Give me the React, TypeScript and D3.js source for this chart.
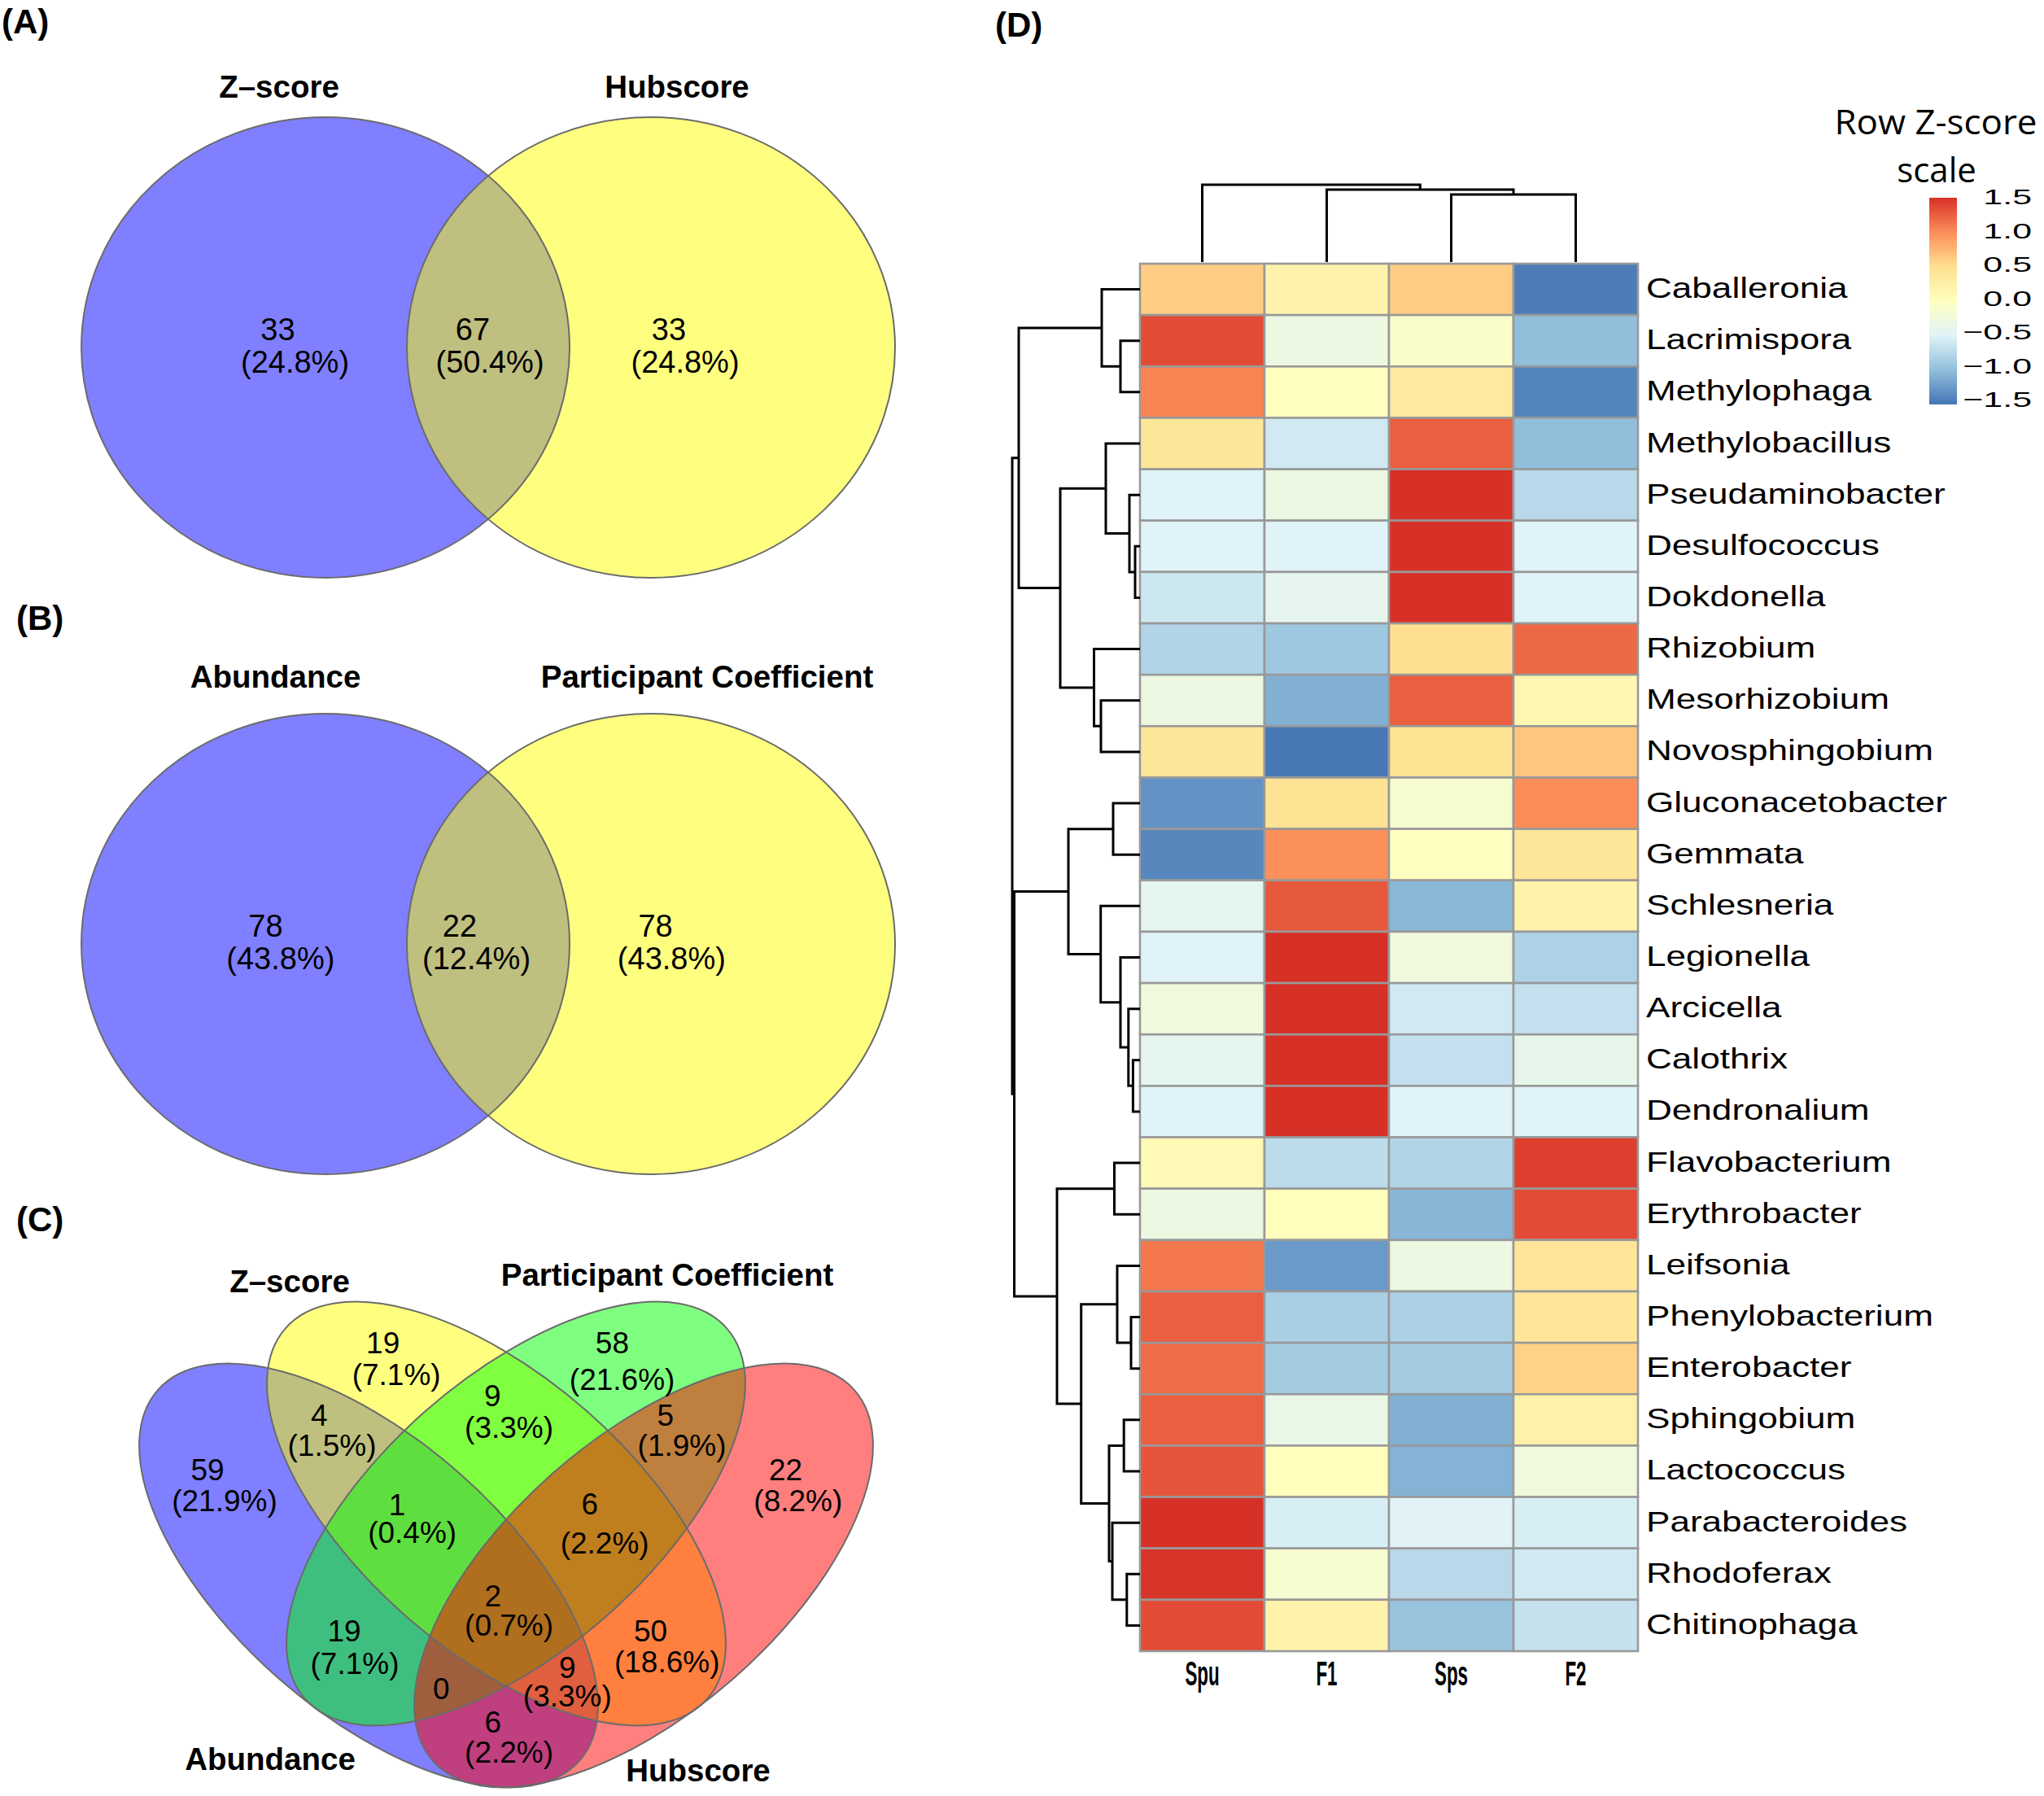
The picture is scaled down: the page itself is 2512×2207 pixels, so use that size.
import React from 'react';
import * as d3 from 'd3';

// ---------------- DATA ----------------
const vennASets = ['Z–score', 'Hubscore'];
const vennACounts = [33, 67, 33]; // left only, overlap, right only

const vennBSets = ['Abundance', 'Participant Coefficient'];
const vennBCounts = [78, 22, 78];

const vennCSets = ['Abundance', 'Z–score', 'Participant Coefficient', 'Hubscore'];
const vennCRegions = ['Z', 'PC', 'A', 'H', 'A&Z', 'Z&PC', 'PC&H', 'A&Z&PC', 'Z&PC&H', 'A&Z&PC&H', 'A&PC', 'Z&H', 'A&PC&H', 'A&Z&H', 'A&H'];
const vennCCounts = [19, 58, 59, 22, 4, 9, 5, 1, 6, 2, 19, 50, 0, 9, 6];

const genera = ['Caballeronia', 'Lacrimispora', 'Methylophaga', 'Methylobacillus', 'Pseudaminobacter', 'Desulfococcus', 'Dokdonella', 'Rhizobium', 'Mesorhizobium', 'Novosphingobium', 'Gluconacetobacter', 'Gemmata', 'Schlesneria', 'Legionella', 'Arcicella', 'Calothrix', 'Dendronalium', 'Flavobacterium', 'Erythrobacter', 'Leifsonia', 'Phenylobacterium', 'Enterobacter', 'Sphingobium', 'Lactococcus', 'Parabacteroides', 'Rhodoferax', 'Chitinophaga'];
const samples = ['Spu', 'F1', 'Sps', 'F2'];
const zSpu = [0.62, 1.35, 1.05, 0.4, -0.5, -0.5, -0.62, -0.8, -0.3, 0.4, -1.3, -1.38, -0.42, -0.5, -0.25, -0.42, -0.5, 0.1, -0.3, 1.12, 1.25, 1.18, 1.25, 1.3, 1.5, 1.48, 1.35];
const zF1 = [0.2, -0.3, 0.0, -0.6, -0.3, -0.5, -0.4, -0.92, -1.1, -1.48, 0.45, 0.98, 1.28, 1.5, 1.5, 1.5, 1.5, -0.72, 0.02, -1.25, -0.85, -0.88, -0.35, 0.02, -0.55, -0.15, 0.2];
const zSps = [0.62, -0.08, 0.35, 1.25, 1.5, 1.5, 1.5, 0.5, 1.25, 0.45, -0.15, 0.0, -1.05, -0.25, -0.6, -0.68, -0.5, -0.8, -1.06, -0.3, -0.83, -0.88, -1.1, -1.08, -0.48, -0.75, -0.95];
const zF2 = [-1.45, -1.0, -1.4, -1.0, -0.75, -0.5, -0.5, 1.2, 0.15, 0.65, 1.0, 0.4, 0.2, -0.82, -0.68, -0.38, -0.5, 1.42, 1.35, 0.42, 0.42, 0.58, 0.22, -0.26, -0.55, -0.6, -0.67];

// hclust-style merges: negative = leaf (-(index+1)), positive = merge number (1-based)
const rowMergeA = [-6, -5, -4, -9, -8, 3, -2, -1, 8, -11, -16, -15, -14, -13, 10, -18, -21, -20, -23, -26, -25, 19, 18, 16, 15, 9];
const rowMergeB = [-7, 1, 2, -10, 4, 5, -3, 7, 6, -12, -17, 11, 12, 13, 14, -19, -22, 17, -24, -27, 20, 21, 22, 23, 24, 25];
const rowMergeH = [6, 13, 42, 48, 56.5, 98, 24, 47, 149, 33, 8.6, 14.2, 24, 48.3, 88, 31.5, 11, 28, 19.8, 16.2, 34, 38, 72.3, 102, 154.5, 157];

const colMergeA = [-3, -2, -1];
const colMergeB = [-4, 1, 2];
const colMergeH = [83, 89, 95];

const legendTicks = [1.5, 1.0, 0.5, 0.0, -0.5, -1.0, -1.5];
const rdylbu7 = ['#4575B4', '#91BFDB', '#E0F3F8', '#FFFFBF', '#FEE090', '#FC8D59', '#D73027'];

// ---------------- LAYOUT ----------------
const FONT = "'Liberation Sans', Arial, Helvetica, sans-serif";
const W = 2512, H = 2207;
const vennFill = { A: '#0000FF', Z: '#FFFF00', PC: '#00FF00', H: '#FF0000' };

const venn2Layout = [
  { cy: 427, titleY: 120, titleX: [343, 832], numX: [341.5, 581, 822], pctX: [362.5, 602, 842], numY: 418, pctY: 458 },
  { cy: 1160, titleY: 845, titleX: [338.5, 869], numX: [326.5, 565, 805.6], pctX: [344.8, 585.5, 825.4], numY: 1151, pctY: 1191 },
];

const vennCEllipses = [
  { key: 'A', cx: 453, cy: 1936, rot: 41.3 },
  { key: 'Z', cx: 610, cy: 1860, rot: 41.3 },
  { key: 'PC', cx: 634, cy: 1860, rot: -41.3 },
  { key: 'H', cx: 791, cy: 1936, rot: -41.3 },
];
const vennCRx = 345, vennCRy = 168;

const vennCLabelPos: Record<string, number[]> = {
  'Z': [470.7, 1663, 487.2, 1702],
  'PC': [752.4, 1663, 764.6, 1708],
  'A': [255.1, 1819, 276, 1857],
  'H': [965.5, 1819, 980.8, 1857],
  'A&Z': [392.3, 1752, 408, 1789],
  'Z&PC': [605.4, 1728, 625.6, 1767],
  'PC&H': [817.9, 1752, 838.1, 1789],
  'A&Z&PC': [488, 1862, 506.7, 1896],
  'Z&PC&H': [724.8, 1861, 743.2, 1909],
  'A&Z&PC&H': [605.7, 1974, 625.6, 2010],
  'A&PC': [423, 2017, 436, 2057],
  'Z&H': [799.5, 2017, 819.7, 2055],
  'A&PC&H': [542.3, 2088, 542.3, 2088],
  'A&Z&H': [697.3, 2062, 697.3, 2097],
  'A&H': [605.7, 2129, 625.6, 2166],
};
const vennCTitlePos = [
  [332, 2175],
  [356, 1588],
  [820, 1580],
  [858, 2189],
];

const panelLetters = [
  { t: '(A)', x: 2, y: 41 },
  { t: '(B)', x: 20, y: 774 },
  { t: '(C)', x: 20, y: 1513 },
  { t: '(D)', x: 1223, y: 45 },
];

// heatmap geometry
const HM = { left: 1401, right: 2013, top: 324, bottom: 2029 };
const rowDendroLeft = 1244;
const colDendroTop = 227;

const fmtPct = d3.format('.1%');

function Venn2({ sets, counts, lay }: any) {
  const total = d3.sum(counts as number[]);
  const cxs = [400, 800];
  const fills = [vennFill.A, vennFill.Z];
  return (
    <g>
      {cxs.map((cx, i) => (
        <ellipse key={'f' + i} cx={cx} cy={lay.cy} rx={300} ry={283} fill={fills[i]} fillOpacity={0.5} />
      ))}
      {cxs.map((cx, i) => (
        <ellipse key={'s' + i} cx={cx} cy={lay.cy} rx={300} ry={283} fill="none" stroke="#6b6b6b" strokeWidth={2} />
      ))}
      {sets.map((s: string, i: number) => (
        <text key={'t' + i} x={lay.titleX[i]} y={lay.titleY} textAnchor="middle" fontFamily={FONT} fontWeight="bold" fontSize={38.5} fill="#000">{s}</text>
      ))}
      {counts.map((c: number, i: number) => (
        <g key={'n' + i}>
          <text x={lay.numX[i]} y={lay.numY} textAnchor="middle" fontFamily={FONT} fontSize={38} fill="#000">{c}</text>
          <text x={lay.pctX[i]} y={lay.pctY} textAnchor="middle" fontFamily={FONT} fontSize={38} fill="#000">({fmtPct(c / total)})</text>
        </g>
      ))}
    </g>
  );
}

function VennC() {
  const total = d3.sum(vennCCounts);
  return (
    <g>
      {vennCEllipses.map((e) => (
        <ellipse key={'f' + e.key} cx={e.cx} cy={e.cy} rx={vennCRx} ry={vennCRy}
          transform={`rotate(${e.rot} ${e.cx} ${e.cy})`} fill={(vennFill as any)[e.key]} fillOpacity={0.5} />
      ))}
      {vennCEllipses.map((e) => (
        <ellipse key={'s' + e.key} cx={e.cx} cy={e.cy} rx={vennCRx} ry={vennCRy}
          transform={`rotate(${e.rot} ${e.cx} ${e.cy})`} fill="none" stroke="#6b6b6b" strokeWidth={2} />
      ))}
      {vennCSets.map((s, i) => (
        <text key={'t' + i} x={vennCTitlePos[i][0]} y={vennCTitlePos[i][1]} textAnchor="middle" fontFamily={FONT} fontWeight="bold" fontSize={38.5}>{s}</text>
      ))}
      {vennCRegions.map((r, i) => {
        const p = vennCLabelPos[r];
        const c = vennCCounts[i];
        return (
          <g key={r}>
            <text x={p[0]} y={p[1]} textAnchor="middle" fontFamily={FONT} fontSize={37}>{c}</text>
            {c > 0 && (
              <text x={p[2]} y={p[3]} textAnchor="middle" fontFamily={FONT} fontSize={37}>({fmtPct(c / total)})</text>
            )}
          </g>
        );
      })}
    </g>
  );
}

function Heatmap() {
  const x = d3.scaleBand<string>().domain(samples).range([HM.left, HM.right]);
  const y = d3.scaleBand<string>().domain(genera).range([HM.top, HM.bottom]);
  const color = d3.scaleLinear<string>()
    .domain(d3.range(7).map((i) => -1.5 + i * 0.5))
    .range(rdylbu7)
    .interpolate(d3.interpolateRgb)
    .clamp(true);
  const cols = [zSpu, zF1, zSps, zF2];

  // row dendrogram
  const rowH = d3.scaleLinear().domain([0, d3.max(rowMergeH) as number]).range([HM.left, rowDendroLeft]);
  const rowPos: number[] = [];
  const rowPaths: string[] = [];
  const leafY = (i: number) => (y(genera[i]) as number) + y.bandwidth() / 2;
  const rInfo = (c: number) => (c < 0 ? { p: leafY(-c - 1), h: 0 } : { p: rowPos[c - 1], h: rowMergeH[c - 1] });
  rowMergeA.forEach((a, k) => {
    const A = rInfo(a), B = rInfo(rowMergeB[k]);
    const h = rowMergeH[k];
    rowPos[k] = (A.p + B.p) / 2;
    rowPaths.push(`M${rowH(A.h)},${A.p}H${rowH(h)}V${B.p}H${rowH(B.h)}`);
  });

  // column dendrogram
  const colH = d3.scaleLinear().domain([0, d3.max(colMergeH) as number]).range([HM.top - 2, colDendroTop]);
  const colPos: number[] = [];
  const colPaths: string[] = [];
  const leafX = (i: number) => (x(samples[i]) as number) + x.bandwidth() / 2;
  const cInfo = (c: number) => (c < 0 ? { p: leafX(-c - 1), h: 0 } : { p: colPos[c - 1], h: colMergeH[c - 1] });
  colMergeA.forEach((a, k) => {
    const A = cInfo(a), B = cInfo(colMergeB[k]);
    const h = colMergeH[k];
    colPos[k] = (A.p + B.p) / 2;
    colPaths.push(`M${A.p},${colH(A.h)}V${colH(h)}H${B.p}V${colH(B.h)}`);
  });

  // legend
  const lg = { x: 2371, y: 243, w: 34, h: 254 };
  const tickY = d3.scaleLinear().domain([-1.5, 1.5]).range([491, 242]);
  const fmtTick = d3.format('.1f');

  return (
    <g>
      <defs>
        <linearGradient id="zgrad" x1="0" y1="1" x2="0" y2="0">
          {rdylbu7.map((c, i) => (
            <stop key={i} offset={`${(i / 6) * 100}%`} stopColor={c} />
          ))}
        </linearGradient>
      </defs>
      {cols.map((vals, j) =>
        genera.map((g, i) => (
          <rect key={g + j} x={x(samples[j])} y={y(g)} width={x.bandwidth()} height={y.bandwidth()}
            fill={color(vals[i])} stroke="#999999" strokeWidth={2.6} />
        ))
      )}
      {rowPaths.map((d, i) => (
        <path key={'r' + i} d={d} fill="none" stroke="#000" strokeWidth={3} />
      ))}
      {colPaths.map((d, i) => (
        <path key={'c' + i} d={d} fill="none" stroke="#000" strokeWidth={3} />
      ))}
      {genera.map((g) => (
        <text key={'l' + g} transform={`translate(2023,${(y(g) as number) + y.bandwidth() / 2 + 10.5}) scale(1.26,1)`}
          fontFamily={FONT} fontSize={35} fill="#000">{g}</text>
      ))}
      {samples.map((s) => (
        <text key={'s' + s} transform={`translate(${(x(s) as number) + x.bandwidth() / 2},2071) scale(0.52,1)`}
          textAnchor="middle" fontFamily={FONT} fontWeight="bold" fontSize={43} fill="#000">{s}</text>
      ))}
      <text x={2379} y={165} textAnchor="middle" fontFamily="'Open Sans', sans-serif" fontSize={42} textLength={249} lengthAdjust="spacingAndGlyphs">Row Z-score</text>
      <text x={2380} y={224} textAnchor="middle" fontFamily="'Open Sans', sans-serif" fontSize={42}>scale</text>
      <rect x={lg.x} y={lg.y} width={lg.w} height={lg.h} fill="url(#zgrad)" />
      {legendTicks.map((t) => (
        <text key={'t' + t} transform={`translate(2497,${tickY(t) + 9}) scale(1.65,1)`} textAnchor="end"
          fontFamily={FONT} fontSize={26} fill="#000">{fmtTick(t)}</text>
      ))}
    </g>
  );
}

export default function App() {
  return (
    <svg width={W} height={H} viewBox={`0 0 ${W} ${H}`} style={{ position: 'absolute', left: 0, top: 0, background: '#fff' }}>
      <rect x={0} y={0} width={W} height={H} fill="#fff" />
      <Venn2 sets={vennASets} counts={vennACounts} lay={venn2Layout[0]} />
      <Venn2 sets={vennBSets} counts={vennBCounts} lay={venn2Layout[1]} />
      <VennC />
      <Heatmap />
      {panelLetters.map((p) => (
        <text key={p.t} x={p.x} y={p.y} fontFamily={FONT} fontWeight="bold" fontSize={42} fill="#000">{p.t}</text>
      ))}
    </svg>
  );
}
